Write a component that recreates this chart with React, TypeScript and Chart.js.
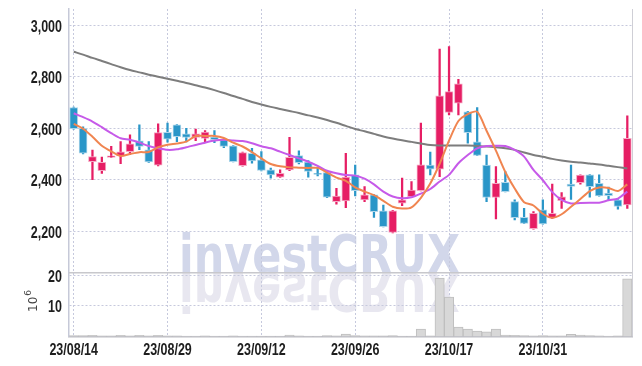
import React, { useEffect, useRef } from "react";
import { Chart, registerables } from "chart.js";

Chart.register(...registerables);

const DATES = [
  "23/08/14", "23/08/16", "23/08/17", "23/08/18", "23/08/21", "23/08/22", "23/08/23", "23/08/24", "23/08/25", "23/08/28",
  "23/08/29", "23/08/30", "23/08/31", "23/09/01", "23/09/04", "23/09/05", "23/09/06", "23/09/07", "23/09/08", "23/09/11",
  "23/09/12", "23/09/13", "23/09/14", "23/09/15", "23/09/18", "23/09/19", "23/09/20", "23/09/21", "23/09/22", "23/09/25",
  "23/09/26", "23/09/27", "23/10/04", "23/10/05", "23/10/06", "23/10/10", "23/10/11", "23/10/12", "23/10/13", "23/10/16",
  "23/10/17", "23/10/18", "23/10/19", "23/10/20", "23/10/23", "23/10/24", "23/10/25", "23/10/26", "23/10/27", "23/10/30",
  "23/10/31", "23/11/01", "23/11/02", "23/11/03", "23/11/06", "23/11/07", "23/11/08", "23/11/09", "23/11/10", "23/11/13",
];

const OPEN = [
  2680, 2600, 2470, 2435, 2487, 2492, 2509, 2551, 2516, 2457,
  2584, 2613, 2578, 2564, 2560, 2566, 2555, 2532, 2455, 2503,
  2477, 2438, 2410, 2438, 2494, 2469, 2425, 2428, 2315, 2318,
  2419, 2322, 2341, 2279, 2195, 2309, 2334, 2358, 2457, 2441,
  2661, 2697, 2664, 2547, 2457, 2331, 2390, 2315, 2254, 2210,
  2283, 2253, 2319, 2383, 2389, 2419, 2386, 2348, 2322, 2302,
];
const HIGH = [
  2682, 2605, 2515, 2488, 2530, 2548, 2574, 2613, 2548, 2617,
  2620, 2614, 2600, 2597, 2591, 2591, 2556, 2533, 2507, 2522,
  2509, 2445, 2438, 2565, 2512, 2474, 2449, 2430, 2367, 2503,
  2457, 2373, 2342, 2302, 2281, 2406, 2393, 2620, 2507, 2907,
  2917, 2790, 2666, 2680, 2496, 2451, 2432, 2322, 2289, 2276,
  2322, 2383, 2350, 2457, 2419, 2420, 2419, 2371, 2323, 2648,
];
const LOW = [
  2596, 2500, 2400, 2425, 2486, 2462, 2497, 2517, 2467, 2454,
  2546, 2548, 2547, 2552, 2545, 2544, 2525, 2469, 2453, 2464,
  2434, 2406, 2409, 2435, 2461, 2410, 2415, 2330, 2305, 2292,
  2337, 2315, 2254, 2217, 2193, 2299, 2332, 2357, 2419, 2412,
  2652, 2652, 2542, 2493, 2315, 2248, 2353, 2244, 2229, 2208,
  2227, 2250, 2289, 2324, 2383, 2332, 2336, 2322, 2286, 2289,
];
const CLOSE = [
  2598, 2503, 2490, 2468, 2493, 2508, 2539, 2529, 2469, 2583,
  2558, 2567, 2564, 2578, 2585, 2556, 2529, 2470, 2505, 2473,
  2436, 2419, 2425, 2487, 2466, 2432, 2421, 2332, 2337, 2410,
  2358, 2341, 2276, 2218, 2279, 2322, 2360, 2458, 2441, 2726,
  2742, 2772, 2583, 2494, 2331, 2386, 2354, 2253, 2230, 2270,
  2228, 2270, 2334, 2374, 2418, 2373, 2337, 2338, 2296, 2561,
];

const MA5 = [
  2617, 2598, 2567, 2532, 2510, 2492, 2500, 2507, 2508, 2526,
  2536, 2541, 2548, 2570, 2570, 2570, 2562, 2544, 2529, 2507,
  2483, 2461, 2452, 2448, 2447, 2446, 2446, 2428, 2408, 2396,
  2370, 2354, 2340, 2318, 2295, 2288, 2293, 2330, 2385, 2462,
  2552, 2628, 2655, 2664, 2590, 2513, 2430, 2366, 2313, 2300,
  2268, 2252, 2266, 2295, 2325, 2356, 2370, 2368, 2356, 2382,
];
const MA20 = [
  2658, 2643, 2626, 2604, 2581, 2561, 2555, 2544, 2531, 2522,
  2516, 2518, 2526, 2535, 2544, 2552, 2555, 2552, 2550, 2542,
  2530, 2522, 2509, 2496, 2483, 2470, 2454, 2435, 2425, 2418,
  2416, 2404, 2382, 2354, 2335, 2328, 2332, 2346, 2364, 2393,
  2419, 2464, 2496, 2522, 2531, 2532, 2531, 2516, 2490, 2438,
  2398, 2352, 2322, 2308, 2310, 2311, 2311, 2320, 2327, 2354,
];
const MA60 = [
  2897, 2886, 2873, 2861, 2849, 2837, 2826, 2817, 2808, 2800,
  2792, 2784, 2776, 2767, 2758, 2748, 2737, 2725, 2714, 2702,
  2692, 2683, 2675, 2667, 2659, 2650, 2642, 2632, 2621, 2609,
  2597, 2588, 2578, 2568, 2560, 2553, 2547, 2541, 2535, 2533,
  2533, 2533, 2533, 2531, 2529, 2526, 2522, 2516, 2506, 2496,
  2489, 2481, 2475, 2470, 2467, 2463, 2459, 2454, 2449, 2444,
];
// volume in millions of shares
const VOLUME = [
  0.3, 0.3, 0.4, 0.2, 0.2, 0.4, 0.2, 0.4, 0.2, 0.4,
  0.2, 0.2, 0.15, 0.15, 0.2, 0.15, 0.15, 0.2, 0.15, 0.15,
  0.1, 0.15, 0.1, 0.5, 0.2, 0.15, 0.1, 0.3, 0.2, 0.8,
  0.3, 0.2, 0.2, 0.2, 0.3, 0.15, 0.1, 2.4, 0.2, 19.1,
  12.9, 3.1, 2.4, 1.8, 1.5, 2.4, 0.5, 0.4, 0.3, 0.2,
  0.3, 0.2, 0.2, 0.7, 0.5, 0.3, 0.2, 0.1, 0.2, 18.9,
];

const PRICE_TICKS = [2200, 2400, 2600, 2800, 3000];
const VOLUME_TICKS = [10, 20];
const DATE_TICK_INDEXES = [0, 10, 20, 30, 40, 50];

const RED = "#e61e64";
const RED_EDGE = "#f5a9c4";
const BLUE = "#2a96c8";
const BLUE_EDGE = "#aed6ea";
const GRID = "#c6c9dd";
const LABEL_FONT = 'bold 16px "Liberation Sans", Arial, sans-serif';
const LABEL_SQUEEZE = 0.78;

export default function App() {
  const ref = useRef<HTMLCanvasElement | null>(null);

  useEffect(() => {
    const canvas = ref.current;
    if (!canvas) return;
    const up = CLOSE.map((c, i) => c >= OPEN[i]);
    const fill = up.map((u) => (u ? RED : BLUE));
    const edge = up.map((u) => (u ? RED_EDGE : BLUE_EDGE));

    const decor = {
      id: "decor",
      beforeDraw(chart: any) {
        const ctx = chart.ctx;
        const yMain = chart.scales.y;
        ctx.save();
        ctx.font = 'bold 54px "DejaVu Sans", sans-serif';
        const text = "investCRUX";
        const w = ctx.measureText(text).width;
        const sx = 281 / w;
        ctx.translate(179, yMain.bottom);
        ctx.scale(sx, 1);
        ctx.textBaseline = "alphabetic";
        ctx.fillStyle = "#d2d7ea";
        ctx.fillText(text, 0, 0);
        ctx.scale(1, -1);
        ctx.fillStyle = "#e8e7f0";
        ctx.fillText(text, 0, 0);
        ctx.restore();
      },
      afterDraw(chart: any) {
        const ctx = chart.ctx;
        const area = chart.chartArea;
        const { x, y, yv } = chart.scales;
        ctx.save();
        ctx.strokeStyle = "#cfcfd6";
        ctx.lineWidth = 1;
        ctx.beginPath();
        ctx.moveTo(Math.round(area.right) + 0.5, area.top);
        ctx.lineTo(Math.round(area.right) + 0.5, area.bottom);
        ctx.stroke();
        ctx.strokeStyle = "#c8c8cc";
        ctx.lineWidth = 1.5;
        ctx.beginPath();
        ctx.moveTo(area.left, y.bottom);
        ctx.lineTo(area.right, y.bottom);
        ctx.stroke();

        // tick labels (condensed)
        ctx.fillStyle = "#1e1e1e";
        ctx.font = LABEL_FONT;
        ctx.textBaseline = "alphabetic";
        const put = (txt: string, px: number, py: number, align: CanvasTextAlign) => {
          ctx.save();
          ctx.translate(px, py);
          ctx.scale(LABEL_SQUEEZE, 1);
          ctx.textAlign = align;
          ctx.fillText(txt, 0, 0);
          ctx.restore();
        };
        PRICE_TICKS.forEach((v) => put(v.toLocaleString("en-US"), 62, y.getPixelForValue(v) + 6.5, "right"));
        VOLUME_TICKS.forEach((v) => put(String(v), 62, yv.getPixelForValue(v) + 6.5, "right"));
        DATE_TICK_INDEXES.forEach((i) => put(DATES[i], x.getPixelForValue(i), 355, "center"));

        // volume unit label
        ctx.translate(37, 312);
        ctx.rotate(-Math.PI / 2);
        ctx.fillStyle = "#444";
        ctx.font = '12px "DejaVu Sans", sans-serif';
        ctx.textAlign = "left";
        ctx.fillText("10", 0, 0);
        const tw = ctx.measureText("10").width;
        ctx.font = '9px "DejaVu Sans", sans-serif';
        ctx.fillText("6", tw + 1, -6);
        ctx.restore();
      },
    };

    const chart = new Chart(canvas, {
      type: "bar",
      data: {
        labels: DATES,
        datasets: [
          {
            type: "line",
            label: "MA5",
            data: MA5,
            borderColor: "#f08550",
            borderWidth: 2,
            pointRadius: 0,
            tension: 0.25,
            yAxisID: "y",
            order: 0,
          },
          {
            type: "line",
            label: "MA20",
            data: MA20,
            borderColor: "#c65ae9",
            borderWidth: 2,
            pointRadius: 0,
            tension: 0.25,
            yAxisID: "y",
            order: 0,
          },
          {
            type: "line",
            label: "MA60",
            data: MA60,
            borderColor: "#7d7d7d",
            borderWidth: 2,
            pointRadius: 0,
            tension: 0.3,
            yAxisID: "y",
            order: 0,
          },
          {
            type: "bar",
            label: "body",
            data: OPEN.map((o, i) => [o, CLOSE[i]]),
            backgroundColor: fill,
            borderColor: edge,
            borderWidth: 1,
            borderSkipped: false,
            barThickness: 8,
            grouped: false,
            yAxisID: "y",
            order: 1,
          },
          {
            type: "bar",
            label: "wick",
            data: LOW.map((l, i) => [l, HIGH[i]]),
            backgroundColor: fill,
            barThickness: 1.6,
            grouped: false,
            yAxisID: "y",
            order: 2,
          },
          {
            type: "bar",
            label: "volume",
            data: VOLUME,
            backgroundColor: "#d8d8d8",
            borderColor: "#bfbfbf",
            borderWidth: 1,
            barPercentage: 1,
            categoryPercentage: 1,
            grouped: false,
            yAxisID: "yv",
            order: 3,
          },
        ],
      } as any,
      options: {
        animation: false,
        responsive: false,
        devicePixelRatio: 1,
        layout: { padding: { top: 9, right: 10, left: 0, bottom: 0 } },
        plugins: { legend: { display: false }, tooltip: { enabled: false } },
        scales: {
          x: {
            type: "category",
            offset: true,
            grid: { color: GRID, offset: false, drawTicks: false, lineWidth: 1 },
            border: { color: "#bdbdc4", width: 1.5, dash: [2, 2] },
            ticks: { display: false, autoSkip: false, maxRotation: 0 },
            afterBuildTicks: (s: any) => {
              s.ticks = DATE_TICK_INDEXES.map((v) => ({ value: v }));
            },
            afterFit: (s: any) => {
              s.height = 29.5;
            },
          },
          yv: {
            type: "linear",
            position: "left",
            stack: "panels",
            stackWeight: 63.8,
            min: 0,
            max: 20.9,
            grid: { color: GRID, drawTicks: false },
            border: { color: "#c6c9d8", width: 1.5, dash: [2, 2] },
            ticks: { display: false },
            afterBuildTicks: (s: any) => {
              s.ticks = VOLUME_TICKS.map((v) => ({ value: v }));
            },
            afterFit: (s: any) => {
              s.width = 69;
            },
          },
          y: {
            type: "linear",
            position: "left",
            stack: "panels",
            stackWeight: 263.7,
            min: 2039,
            max: 3063,
            grid: { color: GRID, drawTicks: false },
            border: { color: "#c6c9d8", width: 1.5, dash: [2, 2] },
            ticks: { display: false },
            afterBuildTicks: (s: any) => {
              s.ticks = PRICE_TICKS.map((v) => ({ value: v }));
            },
            afterFit: (s: any) => {
              s.width = 69;
            },
          },
        },
      } as any,
      plugins: [decor],
    });
    return () => chart.destroy();
  }, []);

  return (
    <div style={{ position: "fixed", left: 0, top: 0, width: 642, height: 366, background: "#fff" }}>
      <canvas ref={ref} width={642} height={366} style={{ display: "block" }} />
    </div>
  );
}
